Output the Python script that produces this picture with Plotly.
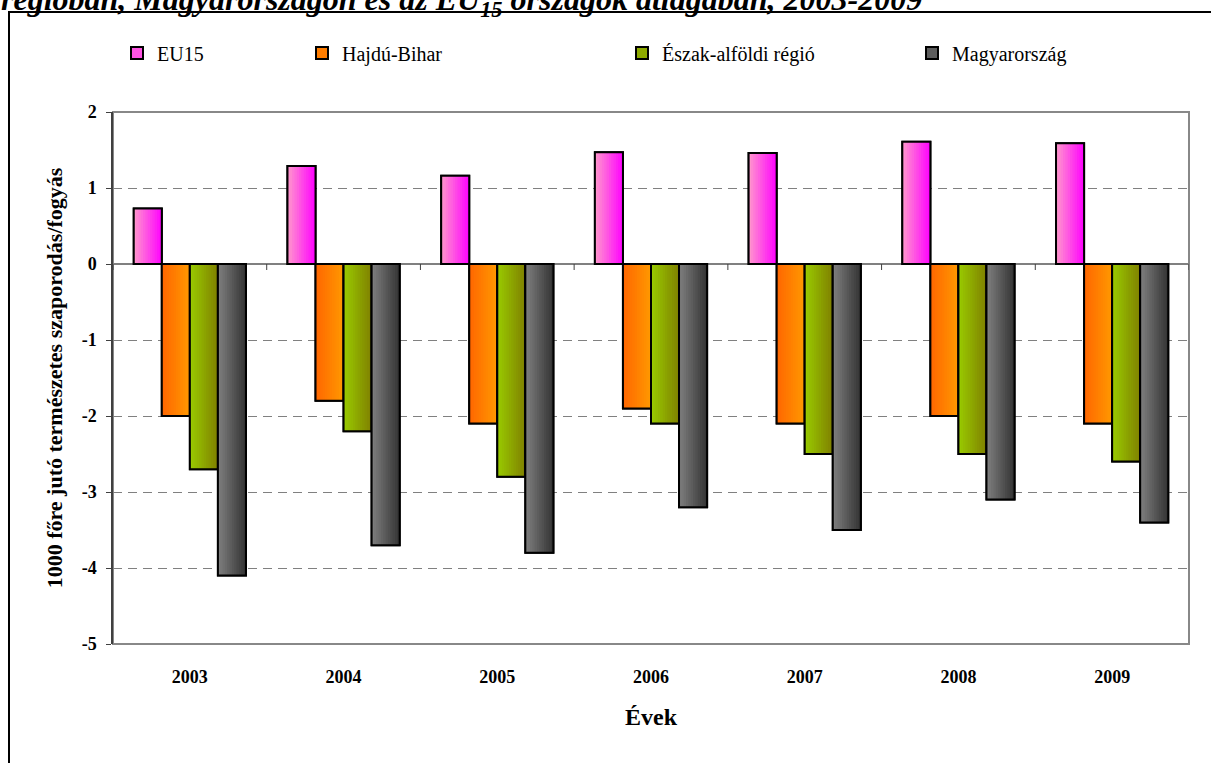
import plotly.graph_objects as go

# Natural increase / decrease per 1000 inhabitants
years = ["2003", "2004", "2005", "2006", "2007", "2008", "2009"]
series_names = ["EU15", "Hajdú-Bihar", "Észak-alföldi régió", "Magyarország"]
eu15 = [0.73, 1.29, 1.16, 1.47, 1.46, 1.61, 1.59]
hajdu_bihar = [-2.0, -1.8, -2.1, -1.9, -2.1, -2.0, -2.1]
eszak_alfold = [-2.7, -2.2, -2.8, -2.1, -2.5, -2.5, -2.6]
magyarorszag = [-4.1, -3.7, -3.8, -3.2, -3.5, -3.1, -3.4]
y_ticks = [2, 1, 0, -1, -2, -3, -4, -5]

values = [eu15, hajdu_bihar, eszak_alfold, magyarorszag]
# left -> right gradient colours of each series
gradients = [
    ("#ff99cc", "#ff00ff"),
    ("#ff6600", "#ff9900"),
    ("#99cc00", "#808000"),
    ("#808080", "#333333"),
]

FONT = "Liberation Serif"
WIDTH, HEIGHT = 1211, 763
L, R, T, B = 113, 22, 112, 119
PW, PH = WIDTH - L - R, HEIGHT - T - B


def px_x(p):
    return (p - L) / PW


def px_y(p):
    return (T + PH - p) / PH


def hex_rgb(h):
    h = h.lstrip("#")
    return tuple(int(h[i:i + 2], 16) for i in (0, 2, 4))


def mix(c1, c2, t):
    a, b = hex_rgb(c1), hex_rgb(c2)
    return "rgb(%d,%d,%d)" % tuple(round(a[k] + (b[k] - a[k]) * t) for k in range(3))


x = list(range(len(years)))
group_w = 0.73
bar_w = group_w / len(values)
n_slices = 12

fig = go.Figure()
legend_ids = ["legend", "legend2", "legend3", "legend4"]

for i, (name, vals, (c_left, c_right)) in enumerate(zip(series_names, values, gradients)):
    left = -group_w / 2 + i * bar_w
    # base bar (also carries the legend entry)
    fig.add_trace(go.Bar(
        x=x, y=vals, name=name, width=bar_w, offset=left,
        marker=dict(color=mix(c_left, c_right, 0.45), line=dict(color="black", width=2)),
        legend=legend_ids[i], hoverinfo="skip",
    ))
    # horizontal gradient built from overlapping slices
    for j in range(n_slices):
        fig.add_trace(go.Bar(
            x=x, y=vals, width=bar_w - j * bar_w / n_slices,
            offset=left + j * bar_w / n_slices,
            marker=dict(color=mix(c_left, c_right, (j + 0.5) / n_slices), line=dict(width=0)),
            showlegend=False, hoverinfo="skip",
        ))
    # outline on top
    fig.add_trace(go.Bar(
        x=x, y=vals, width=bar_w, offset=left,
        marker=dict(color="rgba(0,0,0,0)", line=dict(color="black", width=2)),
        showlegend=False, hoverinfo="skip",
    ))

shapes = []
# small ticks on the zero line between the year groups
for k in range(len(years) + 1):
    shapes.append(dict(
        type="line", xref="x", yref="y", xsizemode="scaled", ysizemode="pixel",
        yanchor=0, x0=k - 0.5, x1=k - 0.5, y0=0, y1=-6,
        line=dict(color="#404040", width=1),
    ))
# plot area frame
shapes.append(dict(type="rect", xref="paper", yref="paper", x0=0, x1=1, y0=0, y1=1,
                   line=dict(color="#888888", width=2), layer="below"))
# outer chart frame
shapes.append(dict(type="rect", xref="paper", yref="paper",
                   x0=px_x(9), x1=px_x(WIDTH + 20), y0=px_y(HEIGHT + 20), y1=px_y(12),
                   line=dict(color="black", width=2)))

legend_common = dict(
    orientation="h", yanchor="middle", xanchor="left",
    font=dict(family=FONT, size=20, color="black"),
    bgcolor="rgba(0,0,0,0)", itemwidth=30, itemclick=False, itemdoubleclick=False,
)
legend_text_x = [153, 338, 658, 948]
legends = {}
for lid, tx in zip(legend_ids, legend_text_x):
    legends[lid] = dict(legend_common, x=px_x(tx - 36), y=px_y(53))

fig.update_layout(
    width=WIDTH, height=HEIGHT,
    margin=dict(l=L, r=R, t=T, b=B, pad=0),
    paper_bgcolor="white", plot_bgcolor="white",
    barmode="overlay",
    font=dict(family=FONT, color="black"),
    shapes=shapes,
    **legends,
    xaxis=dict(
        range=[-0.5, len(years) - 0.5], tickmode="array", tickvals=x,
        ticktext=["<b>%s</b>" % y for y in years],
        tickfont=dict(family=FONT, size=18, color="black"),
        ticks="", ticklabelstandoff=20, showgrid=False, zeroline=False,
        showline=False,
        title=dict(text="<b>Évek</b>", font=dict(family=FONT, size=24, color="black"), standoff=22),
    ),
    yaxis=dict(
        range=[-5, 2], tickmode="array", tickvals=y_ticks,
        ticktext=["<b>%d</b>" % v for v in y_ticks],
        tickfont=dict(family=FONT, size=18, color="black"),
        ticks="outside", ticklen=5, tickcolor="#404040", tickwidth=1, ticklabelstandoff=6,
        showline=True, linecolor="#404040", linewidth=1.5,
        showgrid=True, gridcolor="#808080", gridwidth=1, griddash="9px,6px",
        zeroline=True, zerolinecolor="#808080", zerolinewidth=1.5,
        title=dict(text="<b>1000 főre jutó természetes szaporodás/fogyás</b>",
                   font=dict(family=FONT, size=22, color="black"), standoff=13),
    ),
    annotations=[dict(
        text="<b><i>régióban, Magyarországon és az EU<sub>15</sub> országok átlagában, 2003-2009</i></b>",
        xref="paper", yref="paper", x=px_x(0), y=px_y(23), xanchor="left", yanchor="bottom",
        showarrow=False, font=dict(family=FONT, size=32, color="black"), borderpad=0,
    )],
)

fig.write_html("out.html")
